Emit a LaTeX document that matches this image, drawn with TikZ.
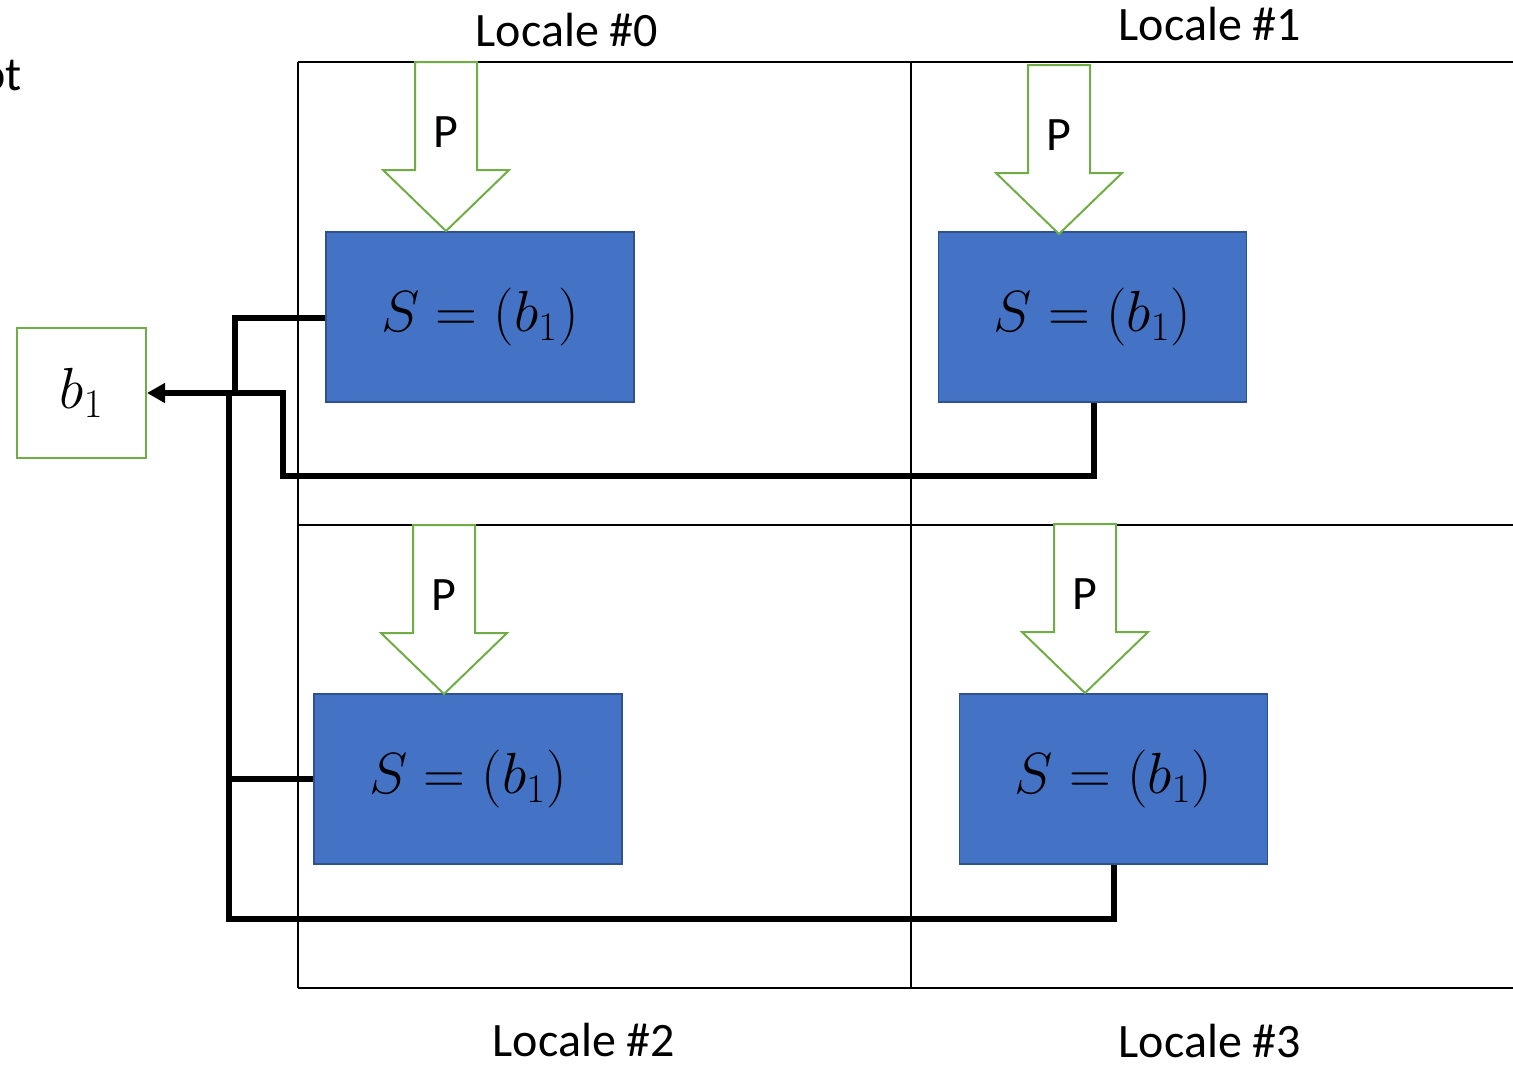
\documentclass[tikz,border=0pt]{standalone}
\usepackage{fix-cm}
\usepackage{fontspec}
\setmainfont{Carlito}
\usetikzlibrary{arrows.meta}
\definecolor{bluefill}{HTML}{4472C4}
\definecolor{blueborder}{HTML}{2F528F}
\definecolor{greenline}{HTML}{70AD47}
\begin{document}
\begin{tikzpicture}[x=0.5pt,y=-0.5pt,
  grid/.style={draw=black,line width=1pt},
  sbox/.style={draw=blueborder,fill=bluefill,line width=0.8pt,minimum width=154pt,minimum height=85pt,inner sep=0pt,font=\fontsize{29}{35}\selectfont},
  bbox/.style={draw=greenline,fill=white,line width=1pt,minimum width=64.5pt,minimum height=65pt,inner sep=0pt,font=\fontsize{29}{35}\selectfont},
  conn/.style={line width=3pt,line join=miter},
  lbl/.style={font=\fontsize{24}{29}\selectfont,inner sep=0pt},
  parrow/.pic={
    \draw[draw=greenline,line width=1pt,fill=white,line join=miter]
      (-31,0) -- (-31,108) -- (-63,108) -- (0,169) -- (63,108) -- (31,108) -- (31,0) -- cycle;
    \node[lbl] (-label) at (0,70) {P};
  }]
\useasboundingbox (0,0) rectangle (1513,1067);
% grid
\draw[grid] (298,62) -- (1513,62);
\draw[grid] (298,525) -- (1513,525);
\draw[grid] (298,988) -- (1513,988);
\draw[grid] (298,62) -- (298,988);
\draw[grid] (911,62) -- (911,988);
% nodes
\node[bbox] (b) at (81.5,393) {$b_1$\hspace{3pt}};
\coordinate (j0) at (235,393);
\coordinate (j1) at (283,476);
\coordinate (j3) at (229,919);
% connectors
\draw[conn] (j3 |- b.east) -- (j3) -- (j3 -| 1114,0) -- (1114,864);
\draw[conn,-{Triangle[length=9pt,width=9.5pt]}] (1094,402) |- (j1) -- (j1 |- b.east) -- (b.east);
\draw[conn] (326,318) -| (j0);
\draw[conn] (314,779) -- (229,779);
% blue boxes
\node[sbox] (s0) at (480,317) {$S=(b_1)$\hspace{6pt}};
\node[sbox] (s1) at (1092.5,317) {$S=(b_1)$\hspace{6pt}};
\node[sbox] (s2) at (468,779) {$S=(b_1)$\hspace{6pt}};
\node[sbox] (s3) at (1113.5,779) {$S=(b_1)$\hspace{6pt}};
% block arrows
\pic (a0) at (446,62) {parrow};
\pic (a1) at (1059,65) {parrow};
\pic (a2) at (444,525) {parrow};
\pic (a3) at (1085,524) {parrow};
% labels
\node[lbl] (l0) at (567,30) {Locale \#0};
\node[lbl] (l1) at (1210,24) {Locale \#1};
\node[lbl] (l2) at (584,1040) {Locale \#2};
\node[lbl] (l3) at (1210,1041) {Locale \#3};
\node[lbl,anchor=east] (ot) at (22,75) {ot};
\end{tikzpicture}
\end{document}
